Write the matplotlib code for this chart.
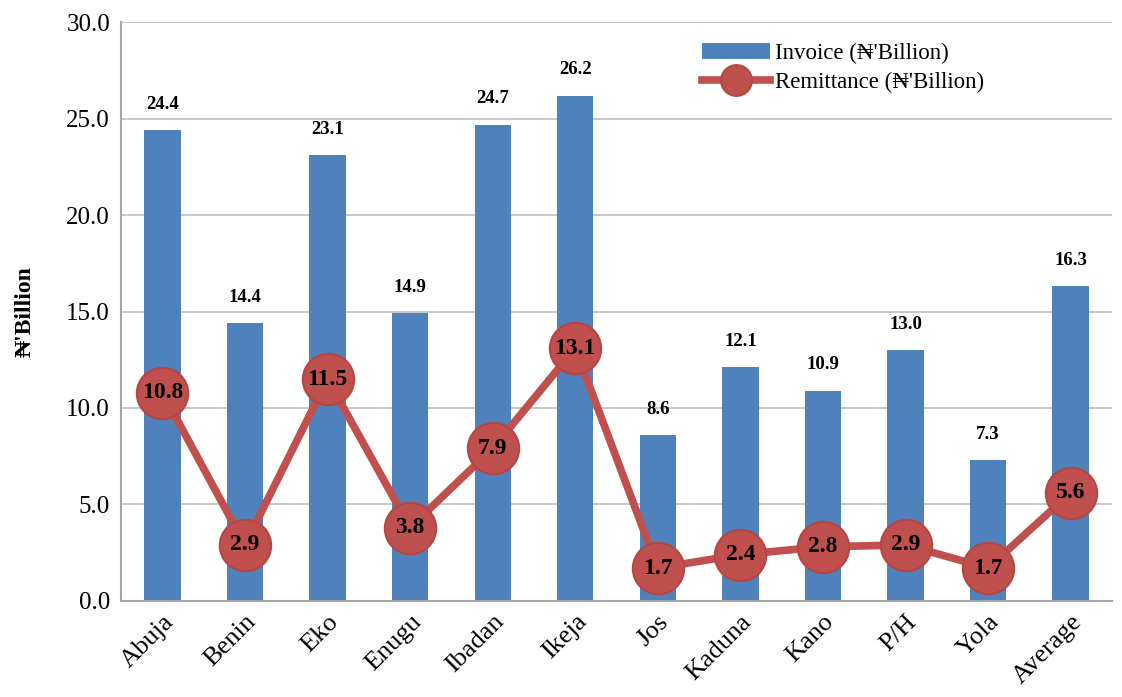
import numpy as np
import matplotlib.pyplot as plt

plt.rcParams['font.family'] = ['Liberation Serif', 'DejaVu Serif']

offices = ["Abuja", "Benin", "Eko", "Enugu", "Ibadan", "Ikeja", "Jos",
           "Kaduna", "Kano", "P/H", "Yola", "Average"]
invoice = [24.4, 14.4, 23.1, 14.9, 24.7, 26.2, 8.6, 12.1, 10.9, 13.0, 7.3, 16.3]
remittance = [10.8, 2.9, 11.5, 3.8, 7.9, 13.1, 1.7, 2.4, 2.8, 2.9, 1.7, 5.6]

blue = "#4F81BD"
red = "#C0504D"

fig = plt.figure(figsize=(11.22, 6.97), dpi=100)
ax = fig.add_axes([0.108, 0.138, 0.883, 0.830])

x = np.arange(len(offices))
bars = ax.bar(x, invoice, width=0.44, color=blue, label="Invoice (\u20a6'Billion)", zorder=2)
for xi, v in zip(x, invoice):
    ax.text(xi, v + 0.9, f"{v:.1f}", ha="center", va="bottom", fontsize=13.5,
            fontweight="bold")

line, = ax.plot(x, remittance, color=red, lw=5.5, marker="o", markersize=37,
                markeredgecolor="#B54643", markeredgewidth=1.5,
                label="Remittance (\u20a6'Billion)", zorder=3)
for xi, v in zip(x, remittance):
    ax.text(xi, v, f"{v:.1f}", ha="center", va="center", fontsize=17,
            fontweight="bold", zorder=4)

ax.set_ylim(0, 30)
ax.set_xlim(-0.5, len(offices) - 0.5)
ax.set_yticks(np.arange(0, 30.1, 5))
ax.set_yticklabels([f"{t:.1f}" for t in np.arange(0, 30.1, 5)], fontsize=18)
ax.set_xticks(x)
ax.set_xticklabels(offices, rotation=45, ha="right", rotation_mode="anchor", fontsize=19)
ax.tick_params(axis="x", length=0, pad=7)
ax.tick_params(axis="y", length=0, pad=8)
ax.yaxis.grid(True, color="#BFBFBF", lw=1.2, zorder=0)
ax.set_axisbelow(True)
for s in ["top", "right"]:
    ax.spines[s].set_visible(False)
for s in ["left", "bottom"]:
    ax.spines[s].set_color("#A6A6A6")
    ax.spines[s].set_linewidth(1.5)
ax.set_ylabel("\u20a6'Billion", fontsize=17, fontweight="bold", labelpad=22)

leg = ax.legend([bars, line], [bars.get_label(), line.get_label()],
                loc="upper left", bbox_to_anchor=(0.565, 1.0), frameon=False,
                fontsize=16.5, handlelength=3, markerscale=0.6,
                labelspacing=0.35, handletextpad=0.2)

fig.savefig("out.png", dpi=100)
